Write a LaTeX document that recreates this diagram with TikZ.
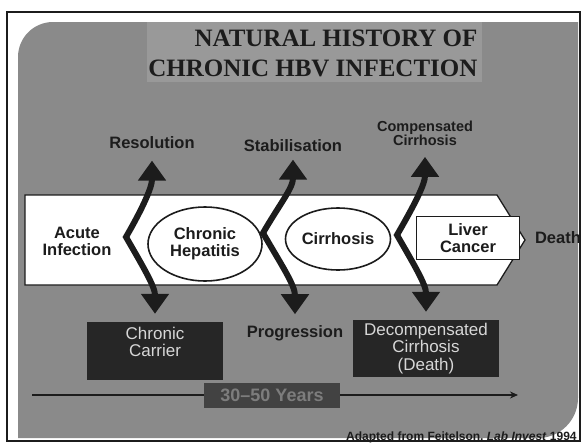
\documentclass[tikz,border=0pt]{standalone}
\usepackage{fontspec}
\setmainfont{Liberation Sans}
\newfontfamily\titlefont{Liberation Serif}
\usetikzlibrary{arrows.meta,shapes.geometric}
\definecolor{slidegray}{RGB}{138,138,138}
\definecolor{titlegray}{RGB}{153,153,153}
\definecolor{boxblack}{RGB}{38,38,38}
\definecolor{boxtext}{RGB}{215,215,215}
\definecolor{yearbox}{RGB}{66,66,66}
\definecolor{yeartext}{RGB}{125,125,125}
\definecolor{ink}{RGB}{28,28,28}
\begin{document}
\begin{tikzpicture}[x=1pt, y=1pt,
        outcome/.style={font=\bfseries\fontsize{16.5}{17}\selectfont, text=ink, align=center},
        darkbox/.style={fill=boxblack, text=boxtext, font=\fontsize{17}{17.5}\selectfont, align=center, inner sep=2pt},
        fork/.style={draw=ink, line width=6pt, line join=miter, >={Triangle[width=27pt,length=20pt]}, <->, shorten <=8pt, shorten >=8pt}]
        \useasboundingbox (0,0) rectangle (582,-445);
        \fill[white] (0,0) rectangle (582,-445);
        \draw[ink, line width=1.6pt] (7,-12) rectangle (580,-441);
        \fill[slidegray] (18,-438) -- (18,-57) arc[start angle=180, end angle=90, radius=35] -- (578,-22) -- (578,-398) arc[start angle=0, end angle=-90, radius=40] -- cycle;
        \fill[titlegray] (147,-22) rectangle (482,-82);
        \node[font=\titlefont\bfseries\fontsize{25}{30}\selectfont, text=ink, align=right, anchor=east] (title) at (481,-53) {NATURAL HISTORY OF\\CHRONIC HBV INFECTION};

        \draw[draw=ink, fill=white, line width=1.3pt] (25,-195) -- (497,-195) -- (525,-240) -- (497,-285) -- (25,-285) -- cycle;
        \node[outcome] (acute) at (77,-241) {Acute\\Infection};
        \node[outcome, ellipse, draw=ink, line width=1.6pt, fill=white, minimum width=114pt, minimum height=74pt, inner sep=0pt] (hepatitis) at (205,-244) {Chronic\\Hepatitis};
        \node[outcome, ellipse, draw=ink, line width=1.6pt, fill=white, minimum width=105pt, minimum height=62pt, inner sep=0pt] (cirrhosis) at (338,-239) {Cirrhosis};
        \node[outcome, draw=ink, line width=1.3pt, fill=white, minimum width=103pt, minimum height=43pt, inner sep=0pt] (liver) at (468,-238) {Liver\\Cancer};
        \node[outcome] (death) [right of=liver, node distance=90pt] {Death};

        \node[outcome] (resolution) at (152,-143) {Resolution};
        \node[outcome] (stable) at (293,-146) {Stabilisation};
        \node[outcome, font=\bfseries\fontsize{14.5}{14}\selectfont] (compensated) at (425,-133) {Compensated\\Cirrhosis};
        \node[outcome] (progression) at (295,-333.5) {Progression};
        \node[darkbox, minimum width=136pt, minimum height=58pt, text depth=18pt] (carrier) at (155,-351) {Chronic\\Carrier};
        \node[darkbox, minimum width=146pt, minimum height=57pt] (decomp) at (426,-348.5) {Decompensated\\Cirrhosis\\(Death)};

        \coordinate (k1) at (126,-237);
        \coordinate (k2) at (263,-233);
        \coordinate (k3) at (397,-235);
        \draw[fork] (resolution.south) to[out=-90, in=60] (k1) to[out=-60, in=90] (carrier.north);
        \draw[fork, shorten <=4pt] (stable.south) to[out=-90, in=60] (k2) to[out=-60, in=90] (progression.north);
        \draw[fork] (compensated.south) to[out=-90, in=60] (k3) to[out=-60, in=90] (decomp.north);

        \coordinate (t0) at (32,-395);
        \coordinate (t1) at (518,-395);
        \node[fill=yearbox, text=yeartext, font=\bfseries\fontsize{18}{18}\selectfont, minimum width=136pt, minimum height=25pt, inner sep=0pt] (years) at (272,-395) {30--50 Years};
        \draw[ink, line width=1.5pt] (t0) -- (years.west);
        \draw[ink, line width=1.5pt, -{Stealth[length=8pt, width=7pt]}] (years.east) -- (t1);

        \node[font=\bfseries\fontsize{12}{13}\selectfont, text=ink, anchor=base west, inner sep=0pt] (source) at (346,-440) {Adapted from Feitelson, \textit{Lab Invest} 1994};
    \end{tikzpicture}
\end{document}
